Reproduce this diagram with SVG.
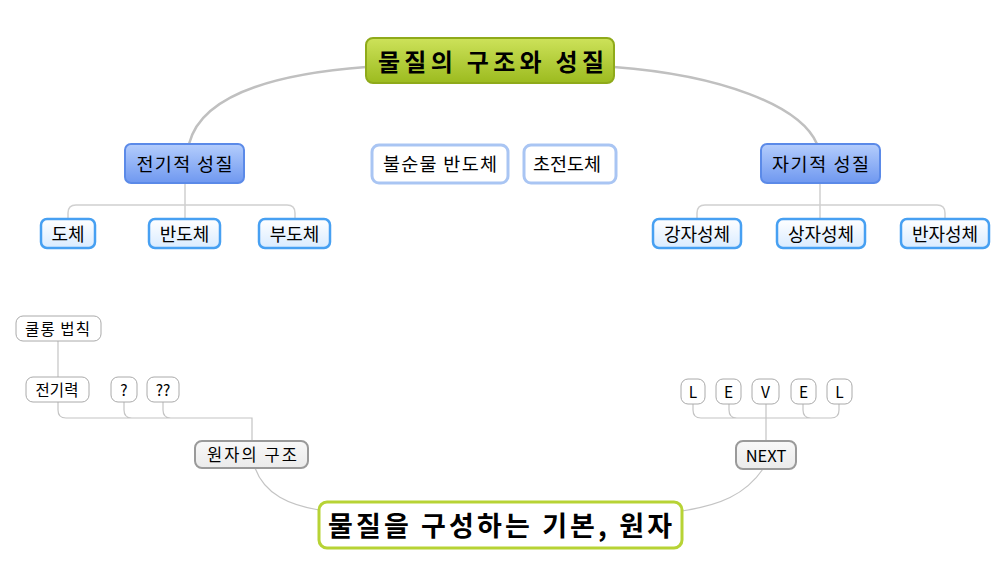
<svg xmlns="http://www.w3.org/2000/svg" width="1002" height="563" viewBox="0 0 1002 563">
<defs>
<linearGradient id="gRoot" x1="0" y1="0" x2="0" y2="1"><stop offset="0" stop-color="#cde25a"/><stop offset="1" stop-color="#9cbb1f"/></linearGradient>
<linearGradient id="gBlue" x1="0" y1="0" x2="0" y2="1"><stop offset="0" stop-color="#b4cdfc"/><stop offset="1" stop-color="#6f98f0"/></linearGradient>
<linearGradient id="gLeaf" x1="0" y1="0" x2="0" y2="1"><stop offset="0" stop-color="#ffffff"/><stop offset="1" stop-color="#d9ebff"/></linearGradient>
<linearGradient id="gGray" x1="0" y1="0" x2="0" y2="1"><stop offset="0" stop-color="#f8f8f8"/><stop offset="1" stop-color="#ebebeb"/></linearGradient>
</defs>
<style>
text{font-family:"Noto Sans CJK KR","Noto Sans",sans-serif;fill:#000;text-anchor:middle;dominant-baseline:central}
.c1{fill:none;stroke:#c0c0c0;stroke-width:2.5}
.c2{fill:none;stroke:#d0d0d0;stroke-width:1.5}
.c3{fill:none;stroke:#c4c4c4;stroke-width:1.2}
.root{fill:url(#gRoot);stroke:#8faa1a;stroke-width:2}
.main{fill:url(#gBlue);stroke:#5b8ae8;stroke-width:2}
.float{fill:#fff;stroke:#a9c5f3;stroke-width:3}
.leaf{fill:url(#gLeaf);stroke:#47a0f2;stroke-width:2.5}
.base{fill:#fff;stroke:#b7d335;stroke-width:3}
.gray{fill:url(#gGray);stroke:#9a9a9a;stroke-width:2}
.small{fill:#fff;stroke:#aaa;stroke-width:1}
.t22{font-size:24px;font-weight:bold}
.t24{font-size:27px;font-weight:bold}
.t18{font-size:18.5px}
.t17{font-size:18px}
.t16{font-size:16.5px}
.t14{font-size:15.5px}
</style>
<g id="connectors">
<path class="c1" d="M366,67 C260,75 200,100 189,144"/>
<path class="c1" d="M614,67 C720,75 800,105 817,144"/>
<path class="c2" d="M185,183 V205 M68,219 V213 Q68,205 76,205 H287 Q295,205 295,213 V219 M185,205 V219"/>
<path class="c2" d="M820,183 V205 M697,219 V213 Q697,205 705,205 H937 Q945,205 945,213 V219 M820,205 V219"/>
<path class="c3" d="M58,341 V377"/>
<path class="c3" d="M252,440 V418 H66 Q58,418 58,410 V402 M124,402 V410 Q124,418 132,418 M163,402 V410 Q163,418 171,418"/>
<path class="c3" d="M766,441 V418 M701,418 Q693,418 693,410 V404 M701,418 H831 Q839,418 839,410 V404 M729,404 V410 Q729,418 737,418 M766,404 V418 M803,404 V410 Q803,418 811,418"/>
<path class="c3" d="M255,468 C265,495 290,505 319,510"/>
<path class="c3" d="M763,469 C745,495 720,505 682,511"/>
</g>
<g id="n-root"><rect class="root" x="366" y="38" width="248" height="45" rx="7"/><text class="t22" x="491" y="60" textLength="226" lengthAdjust="spacing">물질의 구조와 성질</text></g>
<g id="n-elec"><rect class="main" x="125" y="144" width="119" height="39" rx="6"/><text class="t18" x="184.5" y="163" textLength="96" lengthAdjust="spacing">전기적 성질</text></g>
<g id="n-mag"><rect class="main" x="761" y="144" width="119" height="39" rx="6"/><text class="t18" x="820.5" y="163" textLength="97" lengthAdjust="spacing">자기적 성질</text></g>
<g id="n-impure"><rect class="float" x="372" y="145" width="136" height="38" rx="7"/><text class="t18" x="440" y="163" textLength="114" lengthAdjust="spacing">불순물 반도체</text></g>
<g id="n-super"><rect class="float" x="524" y="145" width="92" height="38" rx="7"/><text class="t18" x="567" y="163" textLength="68" lengthAdjust="spacing">초전도체</text></g>
<g id="n-conductor"><rect class="leaf" x="41" y="219" width="54" height="29" rx="6"/><text class="t17" x="68" y="233">도체</text></g>
<g id="n-semi"><rect class="leaf" x="149" y="219" width="71" height="29" rx="6"/><text class="t17" x="184.5" y="233">반도체</text></g>
<g id="n-insul"><rect class="leaf" x="259" y="219" width="71" height="29" rx="6"/><text class="t17" x="294.5" y="233">부도체</text></g>
<g id="n-ferro"><rect class="leaf" x="653" y="219" width="88" height="29" rx="6"/><text class="t17" x="697" y="233">강자성체</text></g>
<g id="n-para"><rect class="leaf" x="777" y="219" width="88" height="29" rx="6"/><text class="t17" x="821" y="233">상자성체</text></g>
<g id="n-dia"><rect class="leaf" x="901" y="219" width="88" height="29" rx="6"/><text class="t17" x="945" y="233">반자성체</text></g>
<g id="n-base"><rect class="base" x="319" y="502" width="363" height="46" rx="8"/><text class="t24" x="500" y="524" textLength="344" lengthAdjust="spacing">물질을 구성하는 기본, 원자</text></g>
<g id="n-atom"><rect class="gray" x="195" y="441" width="113" height="27" rx="7"/><text class="t16" x="252" y="454" textLength="90" lengthAdjust="spacing">원자의 구조</text></g>
<g id="n-next"><rect class="gray" x="736" y="441" width="60" height="28" rx="7"/><text class="t16" x="766" y="455">NEXT</text></g>
<g id="n-coulomb"><rect class="small" x="16" y="316" width="85" height="25" rx="7"/><text class="t14" x="57.5" y="328" textLength="65" lengthAdjust="spacing">쿨롱 법칙</text></g>
<g id="n-force"><rect class="small" x="26" y="377" width="63" height="25" rx="7"/><text class="t14" x="57" y="389">전기력</text></g>
<g id="n-q1"><rect class="small" x="111" y="377" width="26" height="25" rx="7"/><text class="t14" x="124" y="389">?</text></g>
<g id="n-q2"><rect class="small" x="147" y="377" width="32" height="25" rx="7"/><text class="t14" x="163" y="389">??</text></g>
<g id="n-l1"><rect class="small" x="681" y="379" width="24" height="25" rx="7"/><text class="t14" x="693" y="391">L</text></g>
<g id="n-e1"><rect class="small" x="716" y="379" width="25" height="25" rx="7"/><text class="t14" x="728.5" y="391">E</text></g>
<g id="n-v"><rect class="small" x="752" y="379" width="27" height="25" rx="7"/><text class="t14" x="765.5" y="391">V</text></g>
<g id="n-e2"><rect class="small" x="791" y="379" width="25" height="25" rx="7"/><text class="t14" x="803.5" y="391">E</text></g>
<g id="n-l2"><rect class="small" x="827" y="379" width="25" height="25" rx="7"/><text class="t14" x="839.5" y="391">L</text></g>
</svg>
